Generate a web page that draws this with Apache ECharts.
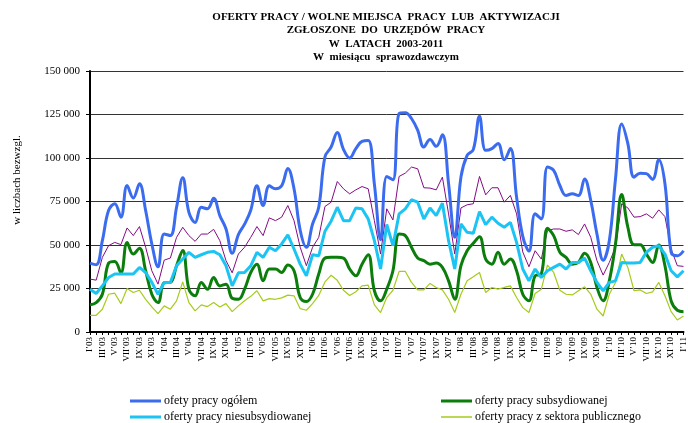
<!DOCTYPE html>
<html>
<head>
<meta charset="utf-8">
<script src="https://cdn.jsdelivr.net/npm/echarts@6/dist/echarts.min.js"></script>
<style>
  html, body { margin: 0; padding: 0; background: #fff; }
  #chart { width: 688px; height: 423px; }
</style>
</head>
<body>
<div id="chart"></div>
<script>
const monthNames = ['I', 'II', 'III', 'IV', 'V', 'VI', 'VII', 'VIII', 'IX', 'X', 'XI', 'XII']
const years = ['03', '04', '05', '06', '07', '08', '09', '10', '11']

// oferty pracy ogółem
const ogolem = [
  39600, 38700, 52500, 69800, 73700, 66000, 84200, 77000, 85200, 69800, 50600, 37500,
  56300, 55400, 71700, 88700, 68800, 63000, 71700, 70800, 76900, 66900, 59200, 45200,
  56000, 62000, 70000, 84000, 72700, 84000, 82300, 84000, 94000, 82300, 58500, 48700,
  62100, 71700, 100600, 106300, 114600, 105000, 100000, 105400, 109500, 110000, 85000, 53000,
  89400, 87500, 125600, 126000, 122700, 116000, 106300, 110600, 106700, 113300, 85300, 54500,
  89000, 101500, 104800, 124000, 104400, 105400, 108300, 99000, 105400, 77500, 55000, 46500,
  67900, 65000, 94800, 92900, 84200, 78500, 79400, 78500, 88000, 75600, 56300, 41300,
  52500, 88000, 119600, 108300, 89000, 91300, 91000, 87700, 99000, 85200, 45800, 43800,
  46700
]
// niesubsydiowane
const niesubsydiowane = [
  24600, 22100, 26500, 31300, 33300, 33300, 33300, 33300, 37100, 34200, 28500, 21700,
  28500, 28500, 38100, 41900, 45800, 42900, 44400, 45800, 46300, 44400, 38100, 26500,
  34000, 34200, 38000, 45800, 42900, 48700, 46700, 50600, 55800, 47700, 39000, 32300,
  44400, 43800, 57900, 63700, 71700, 64000, 64000, 71300, 70800, 65000, 52500, 36200,
  61800, 49600, 67900, 70800, 76000, 74600, 65000, 71300, 66900, 74000, 52500, 36200,
  62100, 57300, 56700, 69200, 61700, 66000, 62500, 60200, 63000, 51500, 36200, 29400,
  36200, 31300, 35200, 37100, 39000, 36200, 40000, 40000, 42500, 35200, 28500, 23700,
  28500, 29400, 40000, 39600, 39600, 40000, 45800, 48700, 49600, 44800, 35200, 31700,
  35200
]
// subsydiowane
const subsydiowane = [
  15600, 16900, 21700, 39500, 40500, 34000, 51500, 44800, 48100, 35200, 21700, 16900,
  28300, 28500, 38100, 46900, 24500, 20800, 28500, 24500, 31300, 26500, 27500, 19400,
  18800, 24600, 34200, 39000, 29400, 36200, 36200, 34200, 38500, 35200, 19800, 17500,
  21700, 33300, 42500, 42900, 42900, 42500, 36200, 32300, 39000, 44400, 23700, 17900,
  24600, 35200, 56300, 55400, 48700, 42500, 41000, 39000, 39600, 37100, 29400, 18800,
  38100, 46700, 51000, 54800, 41900, 39000, 45800, 39000, 41900, 35200, 21700, 17900,
  32300, 33300, 59600, 55400, 45800, 42900, 39000, 40000, 45200, 40000, 25600, 17900,
  29400, 50600, 79000, 60200, 50200, 50200, 44800, 40000, 50000, 38100, 17900, 12500,
  11700
]
// z sektora publicznego
const publiczne = [
  9600, 9600, 13100, 21700, 22300, 16300, 25000, 22700, 24000, 18800, 14400, 10600,
  15000, 13100, 17900, 28800, 16900, 12100, 15600, 14600, 16900, 14400, 16300, 11700,
  15000, 18000, 20500, 23700, 17900, 19200, 18800, 19600, 21200, 20800, 13400, 12500,
  16300, 21000, 28800, 32600, 29700, 24000, 21000, 23100, 26500, 26900, 15600, 11200,
  19800, 24000, 34800, 34800, 28500, 24200, 24200, 27900, 25600, 24200, 18800, 11200,
  21700, 29400, 31700, 34200, 22700, 25600, 24600, 25600, 26500, 19800, 14000, 11200,
  22100, 24600, 38500, 34200, 24000, 21700, 21300, 23700, 26000, 21700, 13100, 9200,
  21700, 28500, 44800, 37100, 23700, 24200, 22100, 23100, 28500, 20800, 11700, 6900,
  9200
]
// fioletowa seria (bez opisu w legendzie)
const fioletowa = [
  30400, 29800, 42900, 49600, 51500, 50200, 59800, 55400, 60600, 48700, 35200, 27500,
  41300, 42500, 54400, 60200, 55400, 52100, 56300, 56300, 59000, 52500, 41000, 34000,
  44800, 48700, 54400, 60600, 55400, 65600, 64000, 66000, 72700, 64000, 48700, 38100,
  48700, 54400, 72100, 74600, 86500, 82300, 79400, 81700, 83600, 82300, 64000, 44800,
  70800, 64400, 89400, 91300, 94800, 93800, 82900, 82700, 81700, 89000, 67900, 44800,
  71300, 73100, 73700, 89400, 78800, 82900, 82900, 74600, 78500, 67900, 46000, 37500,
  46700, 41900, 58300, 59200, 59200, 57900, 58700, 56000, 62100, 54400, 41000, 32700,
  40000, 48700, 73700, 71300, 66000, 66300, 67900, 65400, 70200, 66300, 47700, 38100,
  37700
]

const categories = []
years.forEach(y => {
  monthNames.forEach(m => {
    if (categories.length < 97) categories.push(m + '\u2019' + y)
  })
})

const serif = '"Liberation Serif", "Times New Roman", serif'
// line-shaped legend icons (tiny corner dots keep the bar centred in the 31x12 box)
const thickIcon = 'path://M0,0h0.01v0.01h-0.01z M0,4.5h31v3h-31z M30.99,11.99h0.01v0.01h-0.01z'
const thinIcon = 'path://M0,0h0.01v0.01h-0.01z M0,5.3h31v1.4h-31z M30.99,11.99h0.01v0.01h-0.01z'

const chart = echarts.init(document.getElementById('chart'))

chart.setOption({
  animation: false,
  grid: { left: 90, right: 3, top: 71, bottom: 91 },
  graphic: [
    { type: 'text', x: 386, y: 17, style: { text: 'OFERTY PRACY / WOLNE MIEJSCA  PRACY  LUB  AKTYWIZACJI', font: 'bold 11px ' + serif, fill: '#000', textAlign: 'center', textVerticalAlign: 'middle' } },
    { type: 'text', x: 386, y: 30.5, style: { text: 'ZGŁOSZONE  DO  URZĘDÓW  PRACY', font: 'bold 11px ' + serif, fill: '#000', textAlign: 'center', textVerticalAlign: 'middle' } },
    { type: 'text', x: 386, y: 44, style: { text: 'W  LATACH  2003-2011', font: 'bold 11px ' + serif, fill: '#000', textAlign: 'center', textVerticalAlign: 'middle' } },
    { type: 'text', x: 386, y: 57, style: { text: 'W  miesiącu  sprawozdawczym', font: 'bold 11px ' + serif, fill: '#000', textAlign: 'center', textVerticalAlign: 'middle' } },
    { type: 'text', x: 17, y: 180, rotation: Math.PI / 2, style: { text: 'w liczbach bezwzgl.', font: '11px ' + serif, fill: '#000', textAlign: 'center', textVerticalAlign: 'middle' } }
  ],
  legend: [
    {
      data: [
        { name: 'ofety pracy ogółem', icon: thickIcon },
        { name: 'oferty pracy niesubsydiowanej', icon: thickIcon }
      ],
      orient: 'vertical',
      left: 130,
      top: 395,
      padding: 0,
      itemWidth: 31,
      itemHeight: 12,
      itemGap: 4,
      textStyle: { fontFamily: serif, fontSize: 12, color: '#000', padding: [0, 0, 0, -2] }
    },
    {
      data: [
        { name: 'oferty pracy subsydiowanej', icon: thickIcon },
        { name: 'oferty pracy z sektora publicznego', icon: thinIcon }
      ],
      orient: 'vertical',
      left: 441,
      top: 395,
      padding: 0,
      itemWidth: 31,
      itemHeight: 12,
      itemGap: 4,
      textStyle: { fontFamily: serif, fontSize: 12, color: '#000', padding: [0, 0, 0, -2] }
    }
  ],
  xAxis: {
    type: 'category',
    data: categories,
    boundaryGap: false,
    axisLine: { lineStyle: { color: '#000', width: 2 } },
    axisTick: { interval: 0, length: 3, lineStyle: { color: '#000' } },
    axisLabel: {
      interval: 1,
      rotate: 90,
      margin: 5,
      fontFamily: serif,
      fontSize: 9,
      color: '#000'
    }
  },
  yAxis: {
    type: 'value',
    min: 0,
    max: 150000,
    interval: 25000,
    axisLine: { show: true, lineStyle: { color: '#000', width: 2 } },
    axisTick: { show: true, length: 4, lineStyle: { color: '#000' } },
    axisLabel: {
      margin: 10,
      fontFamily: serif,
      fontSize: 11,
      color: '#000',
      formatter: v => String(v).replace(/\B(?=(\d{3})+(?!\d))/g, ' ')
    },
    splitLine: { lineStyle: { color: '#333', width: 1 } }
  },
  series: [
    {
      name: 'seria fioletowa',
      type: 'line',
      data: fioletowa,
      symbol: 'none',
      lineStyle: { color: '#850a85', width: 1 },
      itemStyle: { color: '#850a85' }
    },
    {
      name: 'oferty pracy z sektora publicznego',
      type: 'line',
      data: publiczne,
      symbol: 'none',
      lineStyle: { color: '#a6cc1a', width: 1.2 },
      itemStyle: { color: '#a6cc1a' }
    },
    {
      name: 'oferty pracy subsydiowanej',
      type: 'line',
      data: subsydiowane,
      symbol: 'none',
      smooth: 0.4,
      lineStyle: { color: '#0b7d0b', width: 3 },
      itemStyle: { color: '#0b7d0b' }
    },
    {
      name: 'oferty pracy niesubsydiowanej',
      type: 'line',
      data: niesubsydiowane,
      symbol: 'none',
      lineStyle: { color: '#1cc4f4', width: 3 },
      itemStyle: { color: '#1cc4f4' }
    },
    {
      name: 'ofety pracy ogółem',
      type: 'line',
      data: ogolem,
      symbol: 'none',
      smooth: 0.4,
      lineStyle: { color: '#3b6cf0', width: 3 },
      itemStyle: { color: '#3b6cf0' }
    }
  ]
})
</script>
</body>
</html>
